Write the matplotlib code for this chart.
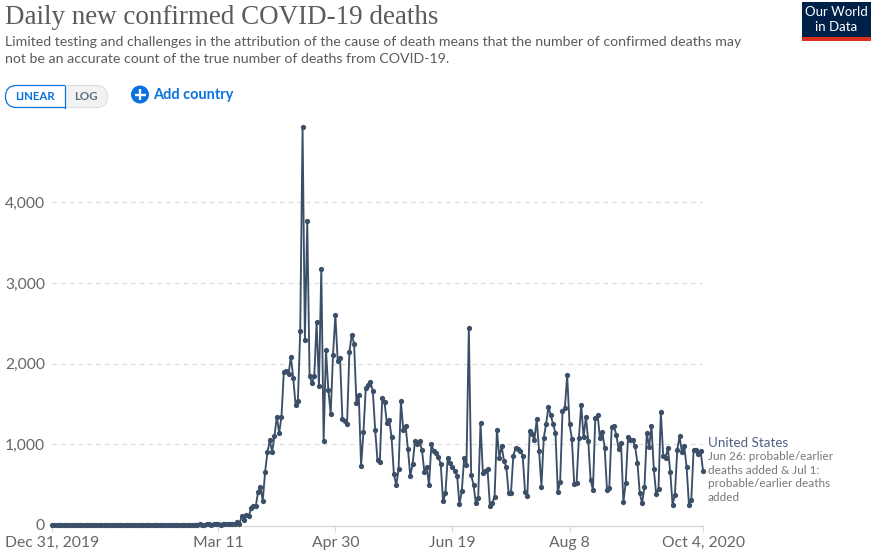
import pandas as pd
import matplotlib
matplotlib.use("Agg")
import matplotlib.pyplot as plt
from matplotlib.patches import Rectangle, FancyBboxPatch, Circle


# =====================================================
# Chart Data
# =====================================================
start_date = "2019-12-31"

# Dec 31 to Mar 12, nearly nothing reported
deaths_winter = [
    0, 0, 0, 0, 0, 0, 0, 0, 0, 0, 0, 0, 0, 0, 0, 0, 0, 0, 0, 0,
    0, 0, 0, 0, 0, 0, 0, 0, 0, 0, 0, 0, 0, 0, 0, 0, 0, 0, 0, 0,
    0, 0, 0, 0, 0, 0, 0, 0, 0, 0, 0, 0, 0, 0, 0, 0, 0, 0, 0, 0,
    1, 0, 1, 5, 1, 2, 3, 4, 2, 4, 3, 4, 2,
]

# Mar 13 to May 18
deaths_spring = [
    4, 5, 8, 7, 10, 14, 29, 5, 104, 58, 116, 104, 203, 228, 228, 403, 473, 299,
    652, 901, 1046, 901, 1100, 1340, 1141, 1340, 1897, 1913, 1868, 2083, 1826,
    1490, 1531, 2403, 4930, 2291, 3764, 1843, 1760, 1843, 2515, 1718, 3175, 1042,
    2166, 1677, 1374, 2104, 2602, 2033, 2063, 1316, 1291, 1249, 2146, 2357, 2245,
    1515, 1610, 730, 1150, 1697, 1739, 1768, 1656, 1179, 797,
]

# May 19 to Jul 18
deaths_early_summer = [
    784, 1569, 1519, 1262, 1303, 1083, 631, 490, 685, 1531, 1179, 1220, 938, 602,
    755, 1037, 996, 1037, 921, 660, 722, 490, 996, 917, 888, 838, 755, 290, 390,
    830, 764, 714, 668, 606, 253, 419, 830, 743, 2440, 618, 494, 266, 332, 1262,
    643, 672, 685, 237, 266, 349, 1179, 826, 979, 793, 718, 390, 390, 855, 955,
    942, 917,
]

# Jul 19 to Oct 4
deaths_late_summer = [
    855, 411, 361, 1166, 1120, 1054, 1307, 917, 473, 1079, 1249, 1461, 1357, 1245,
    1137, 407, 531, 1407, 1444, 1855, 1249, 1067, 502, 515, 1079, 1490, 1083, 1336,
    1042, 556, 432, 1320, 1361, 1075, 1154, 955, 436, 461, 1208, 1220, 1108, 938,
    1013, 278, 523, 1091, 1054, 1054, 971, 768, 390, 266, 465, 1141, 963, 1220, 689,
    378, 448, 1403, 855, 826, 955, 660, 249, 369, 930, 1096, 896, 971, 714, 249,
    307, 930, 930, 880, 913, 672,
]

y_ticks = [0, 1000, 2000, 3000, 4000]
y_labels = ["0", "1,000", "2,000", "3,000", "4,000"]
x_ticks = ["2019-12-31", "2020-03-11", "2020-04-30", "2020-06-19", "2020-08-08", "2020-10-04"]
x_labels = ["Dec 31, 2019", "Mar 11", "Apr 30", "Jun 19", "Aug 8", "Oct 4, 2020"]

title = "Daily new confirmed COVID-19 deaths"
subtitle = [
    "Limited testing and challenges in the attribution of the cause of death means that the number of confirmed deaths may",
    "not be an accurate count of the true number of deaths from COVID-19.",
]
series_name = "United States"
series_note = [
    "Jun 26: probable/earlier",
    "deaths added & Jul 1:",
    "probable/earlier deaths",
    "added",
]

WIDTH = 874
HEIGHT = 553
LINE_COLOR = "#3c4f69"
BLUE = "#0a72e0"
GRAY_TEXT = "#5b5b5b"
TICK_TEXT = "#666666"


def px(size):
    # font size given in image pixels
    return size * 72 / 100


# =====================================================
# Main Plot
# =====================================================
def draw_plot(fig):
    # left, bottom, width, height in figure fractions
    left, right, top, bottom = 52, 703, 120, 524.7
    ax = fig.add_axes([left / WIDTH, 1 - bottom / HEIGHT, (right - left) / WIDTH, (bottom - top) / HEIGHT])
    ax.patch.set_alpha(0)

    values = deaths_winter + deaths_spring + deaths_early_summer + deaths_late_summer
    dates = pd.date_range(start_date, periods=len(values), freq="D")

    ax.set_xlim(pd.Timestamp(x_ticks[0]), pd.Timestamp(x_ticks[-1]))
    ax.set_ylim(0, (bottom - top) / 0.0806)

    line, = ax.plot(dates, values, color=LINE_COLOR, linewidth=1.35, marker="o", markersize=3.8,
                    markeredgewidth=0, clip_on=False, zorder=3)
    # pixel snapping makes the flat start look bumpy
    line.set_snap(False)

    for y in y_ticks[1:]:
        ax.axhline(y, color="#dddddd", linewidth=0.9, dashes=(3.5, 3.5), zorder=1)

    for side in ["top", "right", "left"]:
        ax.spines[side].set_visible(False)
    ax.spines["bottom"].set_color("#d9d9d9")
    ax.spines["bottom"].set_linewidth(1.0)
    ax.spines["bottom"].set_position(("outward", 1))

    ax.set_yticks(y_ticks)
    ax.set_yticklabels(y_labels, fontsize=px(15.6), color=TICK_TEXT)
    ax.tick_params(axis="y", length=0, pad=5)

    ax.set_xticks(pd.to_datetime(x_ticks))
    ax.set_xticklabels(x_labels, fontsize=px(15.7), color=TICK_TEXT)
    ax.tick_params(axis="x", length=4, width=0.8, color="#d9d9d9", pad=3)


# =====================================================
# Header, Buttons and Labels
# =====================================================
def draw_chrome(fig):
    ax = fig.add_axes([0, 0, 1, 1])
    ax.set_xlim(0, WIDTH)
    ax.set_ylim(HEIGHT, 0)
    ax.axis("off")
    ax.patch.set_alpha(0)

    ax.text(5, 18, title, fontsize=px(27), color=GRAY_TEXT, family="Liberation Serif", va="center")
    ax.text(5, 42, subtitle[0], fontsize=px(14.1), color=GRAY_TEXT, family="Lato", va="center")
    ax.text(5, 59, subtitle[1], fontsize=px(14.1), color=GRAY_TEXT, family="Lato", va="center")

    # logo
    ax.add_patch(Rectangle((802, 2), 69, 39, facecolor="#002147", edgecolor="none"))
    ax.add_patch(Rectangle((802, 37), 69, 4, facecolor="#dc2e1f", edgecolor="none"))
    ax.text(836.5, 12.5, "Our World", fontsize=px(13.2), color="white", family="Lato", ha="center", va="center")
    ax.text(836.5, 27, "in Data", fontsize=px(13.2), color="white", family="Lato", ha="center", va="center")

    # linear / log switch
    ax.add_patch(FancyBboxPatch((20, 85.5), 87.5, 22, boxstyle="round,pad=0,rounding_size=11",
                                facecolor="#f2f2f2", edgecolor="#dddddd", linewidth=0.8))
    linear_box = FancyBboxPatch((5.5, 85.5), 90, 22, boxstyle="round,pad=0,rounding_size=11",
                                facecolor="white", edgecolor=BLUE, linewidth=0.9, zorder=2)
    ax.add_patch(linear_box)
    linear_box.set_clip_path(Rectangle((0, 80), 65, 35, transform=ax.transData))
    ax.plot([65, 65], [85.5, 107.5], color=BLUE, linewidth=0.9, zorder=2.2)
    ax.text(35.5, 96.5, "LINEAR", fontsize=px(11.5), color=BLUE, family="Lato", weight="bold",
            ha="center", va="center", zorder=3)
    ax.text(86, 96.5, "LOG", fontsize=px(11.5), color="#5f7285", family="Lato", weight="bold",
            ha="center", va="center", zorder=3)

    # add country
    ax.add_patch(Circle((140, 94.5), 9, facecolor=BLUE, edgecolor="none"))
    ax.plot([134.5, 145.5], [94.5, 94.5], color="white", linewidth=1.7, solid_capstyle="butt")
    ax.plot([140, 140], [89, 100], color="white", linewidth=1.7, solid_capstyle="butt")
    ax.text(153, 95, "Add country", fontsize=px(14.5), color=BLUE, family="Lato", weight="bold", va="center")

    # series label
    ax.text(708, 443, series_name, fontsize=px(13.4), color="#4e6080", family="Lato", va="center")
    for i, line in enumerate(series_note):
        ax.text(708, 457 + i * 13.4, line, fontsize=px(11.7), color="#777777", family="Lato", va="center")


# =====================================================
# Main Program
# =====================================================
def main():
    plt.rcParams["font.family"] = ["Lato", "DejaVu Sans"]

    fig = plt.figure(figsize=(WIDTH / 100, HEIGHT / 100), dpi=100)
    fig.patch.set_facecolor("white")

    draw_plot(fig)
    draw_chrome(fig)

    fig.savefig("out.png", dpi=100)
    plt.close(fig)


if __name__ == "__main__":
    main()
